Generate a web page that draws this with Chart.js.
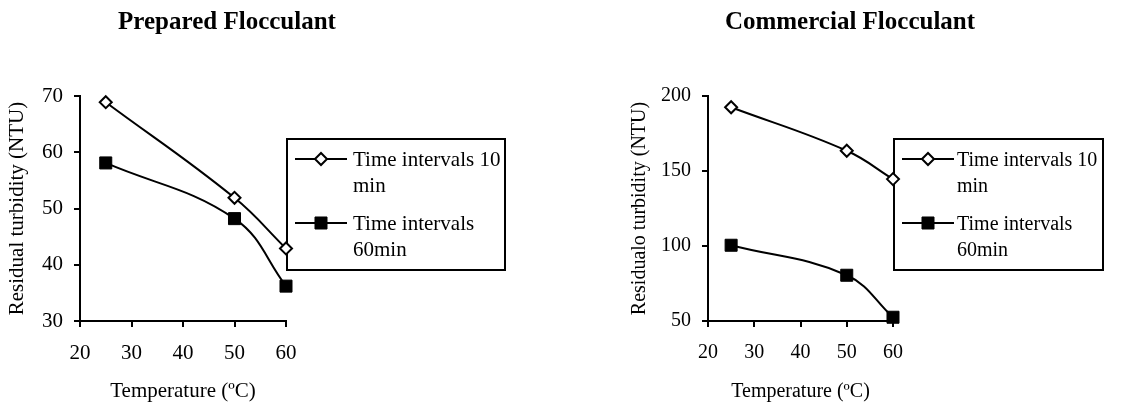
<!DOCTYPE html>
<html>
<head>
<meta charset="utf-8">
<script src="https://cdn.jsdelivr.net/npm/chart.js@4.4.1/dist/chart.umd.min.js"></script>
<style>
  html, body { margin: 0; padding: 0; background: #fff; }
  #wrap { position: relative; width: 1130px; height: 407px; }
  .cv { position: absolute; top: 0; width: 565px; height: 407px; }
</style>
</head>
<body>
<div id="wrap">
  <div class="cv" style="left:0"><canvas id="c1" width="565" height="407"></canvas></div>
  <div class="cv" style="left:565px"><canvas id="c2" width="565" height="407"></canvas></div>
</div>
<script>
// ---- data ----
const temperatures = [25, 50, 60];
const seriesNames = ['Time intervals 10 min', 'Time intervals 60min'];
const prepared10 = [68.9, 51.9, 42.9];
const prepared60 = [58.1, 48.2, 36.2];
const commercial10 = [192.5, 163.5, 144.6];
const commercial60 = [100.5, 80.5, 52.5];
const xTicks = [20, 30, 40, 50, 60];
const preparedYTicks = [30, 40, 50, 60, 70];
const commercialYTicks = [50, 100, 150, 200];
const chartTitles = ['Prepared Flocculant', 'Commercial Flocculant'];
const xTitle = 'Temperature (ºC)';
const yTitles = ['Residual turbidity (NTU)', 'Residualo turbidity (NTU)'];

const FONT = 'Liberation Serif, Times New Roman, serif';

function pts(xs, ys) { return xs.map((x, i) => ({ x: x, y: ys[i] })); }

const titlePlugin = {
  id: 'bigTitle',
  afterDraw(chart, args, o) {
    const ctx = chart.ctx;
    ctx.save();
    ctx.font = 'bold 25px ' + FONT;
    ctx.fillStyle = '#000';
    ctx.textAlign = 'center';
    ctx.textBaseline = 'alphabetic';
    ctx.fillText(o.text, o.x, o.y);
    ctx.restore();
  }
};

const boxLegend = {
  id: 'boxLegend',
  beforeDatasetsDraw(chart, args, o) {
    const ctx = chart.ctx;
    const ca = chart.chartArea;
    const bx = ca.right + 1, by = o.top, bw = o.width, bh = o.height;
    ctx.save();
    ctx.fillStyle = '#fff';
    ctx.fillRect(bx, by, bw, bh);
    ctx.lineWidth = 2;
    ctx.strokeStyle = '#000';
    ctx.strokeRect(bx, by, bw, bh);
    ctx.font = o.fontSize + 'px ' + FONT;
    ctx.textAlign = 'left';
    ctx.textBaseline = 'alphabetic';
    const textX = bx + o.textOffset;
    const maxW = bx + bw - textX + 6;
    chart.data.datasets.forEach((ds, i) => {
      const y = o.itemY[i];
      ctx.beginPath();
      ctx.lineWidth = 2;
      ctx.strokeStyle = '#000';
      ctx.moveTo(bx + 8, y);
      ctx.lineTo(bx + 60, y);
      ctx.stroke();
      ctx.fillStyle = ds.pointBackgroundColor;
      ctx.strokeStyle = ds.pointBorderColor;
      ctx.lineWidth = ds.pointBorderWidth;
      Chart.helpers.drawPoint(ctx, {
        pointStyle: ds.pointStyle, rotation: 0,
        radius: ds.pointRadius, borderWidth: ds.pointBorderWidth
      }, bx + 34, y);
      ctx.fillStyle = '#000';
      const words = ds.label.split(' ');
      const lines = [];
      let cur = '';
      words.forEach(w => {
        const t = cur ? cur + ' ' + w : w;
        if (ctx.measureText(t).width > maxW && cur) { lines.push(cur); cur = w; } else { cur = t; }
      });
      if (cur) lines.push(cur);
      lines.forEach((l, k) => ctx.fillText(l, textX, y + 6.5 + k * 26));
    });
    ctx.restore();
  }
};

function makeChart(id, s10, s60, yTicks, yTitle, opts) {
  const yMin = yTicks[0], yMax = yTicks[yTicks.length - 1];
  const FS = opts.fontSize;
  return new Chart(document.getElementById(id), {
    type: 'line',
    data: {
      datasets: [
        {
          label: seriesNames[0],
          data: pts(temperatures, s10),
          borderColor: '#000', borderWidth: 2, tension: 0.4,
          pointStyle: 'rectRot', pointRadius: 6, pointBorderWidth: 2,
          pointBackgroundColor: '#fff', pointBorderColor: '#000', clip: false
        },
        {
          label: seriesNames[1],
          data: pts(temperatures, s60),
          borderColor: '#000', borderWidth: 2, tension: 0.4,
          pointStyle: 'rect', pointRadius: 8.5, pointBorderWidth: 1,
          pointBackgroundColor: '#000', pointBorderColor: '#000', clip: false
        }
      ]
    },
    options: {
      responsive: false,
      animation: false,
      events: [],
      layout: { padding: { left: 0, top: 96, right: opts.padRight, bottom: 0 } },
      plugins: {
        legend: { display: false },
        tooltip: { enabled: false },
        bigTitle: { text: opts.title, x: opts.titleX, y: 29 },
        boxLegend: { top: 139, width: opts.legendW, height: 131, textOffset: opts.textOffset, itemY: [159, 223], fontSize: FS }
      },
      scales: {
        x: {
          type: 'linear', min: xTicks[0], max: xTicks[xTicks.length - 1],
          afterBuildTicks: s => { s.ticks = xTicks.map(v => ({ value: v })); },
          afterFit: s => { s.height = 86; },
          ticks: { color: '#000', font: { family: FONT, size: FS }, padding: 14, maxRotation: 0 },
          grid: { drawOnChartArea: false, drawTicks: true, tickLength: 6, color: '#000', lineWidth: 2 },
          border: { display: true, color: '#000', width: 2 },
          title: { display: true, text: xTitle, color: '#000', font: { family: FONT, size: FS }, padding: { top: 0, bottom: 3 } }
        },
        y: {
          type: 'linear', min: yMin, max: yMax,
          afterBuildTicks: s => { s.ticks = yTicks.map(v => ({ value: v })); },
          afterFit: s => { s.width = opts.yWidth; },
          ticks: { color: '#000', font: { family: FONT, size: FS }, padding: 11 },
          grid: { drawOnChartArea: false, drawTicks: true, tickLength: 6, color: '#000', lineWidth: 2 },
          border: { display: true, color: '#000', width: 2 },
          title: { display: true, text: yTitle, color: '#000', font: { family: FONT, size: FS }, padding: { top: opts.yTitlePad, bottom: 0 } }
        }
      }
    },
    plugins: [titlePlugin, boxLegend]
  });
}

makeChart('c1', prepared10, prepared60, preparedYTicks, yTitles[0],
  { padRight: 279, yWidth: 80, yTitlePad: 5, title: chartTitles[0], titleX: 227, legendW: 218, textOffset: 66, fontSize: 21 });
makeChart('c2', commercial10, commercial60, commercialYTicks, yTitles[1],
  { padRight: 237, yWidth: 143, yTitlePad: 63, title: chartTitles[1], titleX: 285, legendW: 209, textOffset: 63, fontSize: 20 });
</script>
</body>
</html>
